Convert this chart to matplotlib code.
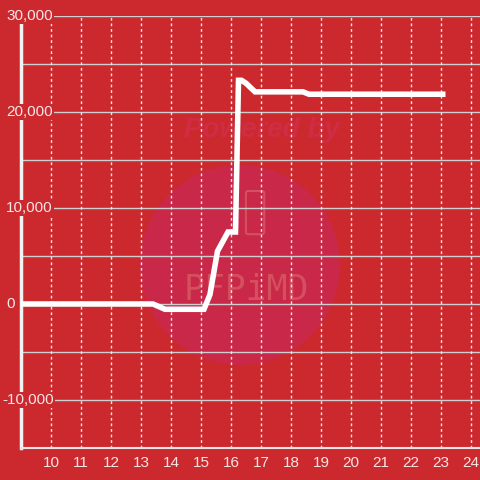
import matplotlib
matplotlib.use("Agg")
import matplotlib.pyplot as plt
from matplotlib.patches import Ellipse, FancyBboxPatch

# hour of day vs value
hours = [9, 13.4, 13.8, 15.1, 15.3, 15.55, 15.9, 16.15, 16.25, 16.35, 16.5, 16.8, 18.4, 18.6, 23.15]
values = [0, 0, -550, -550, 1000, 5500, 7500, 7500, 23300, 23300, 23000, 22100, 22100, 21850, 21850]

xticks = list(range(10, 25))
yticks = [-10000, 0, 10000, 20000, 30000]
ytick_labels = ["-10,000", "0", "10,000", "20,000", "30,000"]

bg = "#cc292e"
plt.rcParams["font.family"] = ["Liberation Sans", "DejaVu Sans"]

fig = plt.figure(figsize=(4.8, 4.8), dpi=100, facecolor=bg)
ax = fig.add_axes([21 / 480, 32 / 480, 459 / 480, 432 / 480])
ax.set_facecolor(bg)
ax.set_xlim(9, 24.3)
ax.set_ylim(-15000, 30000)

# watermark
ax.add_patch(Ellipse((0.477, 0.424), 2 * 100 / 459, 2 * 100 / 432, transform=ax.transAxes,
                     facecolor="#c92848", edgecolor="none", zorder=0))
ax.text(0.525, 0.735, "Powered by", transform=ax.transAxes, ha="center", va="center",
        fontsize=20, fontweight="bold", style="italic", color="#cf2c45", zorder=0)
ax.text(0.49, 0.365, "PFPiMD", transform=ax.transAxes, ha="center", va="center",
        fontsize=25, color="#d4505e", zorder=0, family="DejaVu Sans Mono")
ax.add_patch(FancyBboxPatch((0.495, 0.5), 0.03, 0.09, boxstyle="round,pad=0.005",
                            transform=ax.transAxes, facecolor="none", edgecolor="#d4505e",
                            lw=1.5, zorder=0))

# grid
for v in range(-10000, 30001, 5000):
    ax.axhline(v, color="#cfcfcf", lw=1.0, zorder=1)
for h in xticks:
    ax.axvline(h, color="#e8e8e8", lw=1.0, ls=(0, (2, 2)), zorder=1)

ax.plot(hours, values, color="white", lw=4.0, solid_capstyle="butt", solid_joinstyle="miter", zorder=3)

for s in ["top", "right"]:
    ax.spines[s].set_visible(False)
ax.spines["left"].set_color("#f2f2f2")
ax.spines["left"].set_linewidth(2.5)
ax.spines["bottom"].set_color("#e6e6e6")
ax.spines["bottom"].set_linewidth(1.5)
ax.spines["left"].set_zorder(2)

ax.set_xticks(xticks)
ax.set_xticklabels([str(t) for t in xticks], color="#f5e6e6", fontsize=11)
ax.tick_params(axis="x", length=0, pad=6)
ax.set_yticks([])

for v, lab in zip(yticks, ytick_labels):
    ax.text(-15 / 459 if not lab.startswith("-") else -19 / 459, v, lab, transform=ax.get_yaxis_transform(),
            ha="left", va="center", fontsize=11, color="#f5e6e6", zorder=5,
            bbox=dict(facecolor=bg, edgecolor="none", pad=1.0), clip_on=False)

fig.savefig("out.png", dpi=100, facecolor=bg)
